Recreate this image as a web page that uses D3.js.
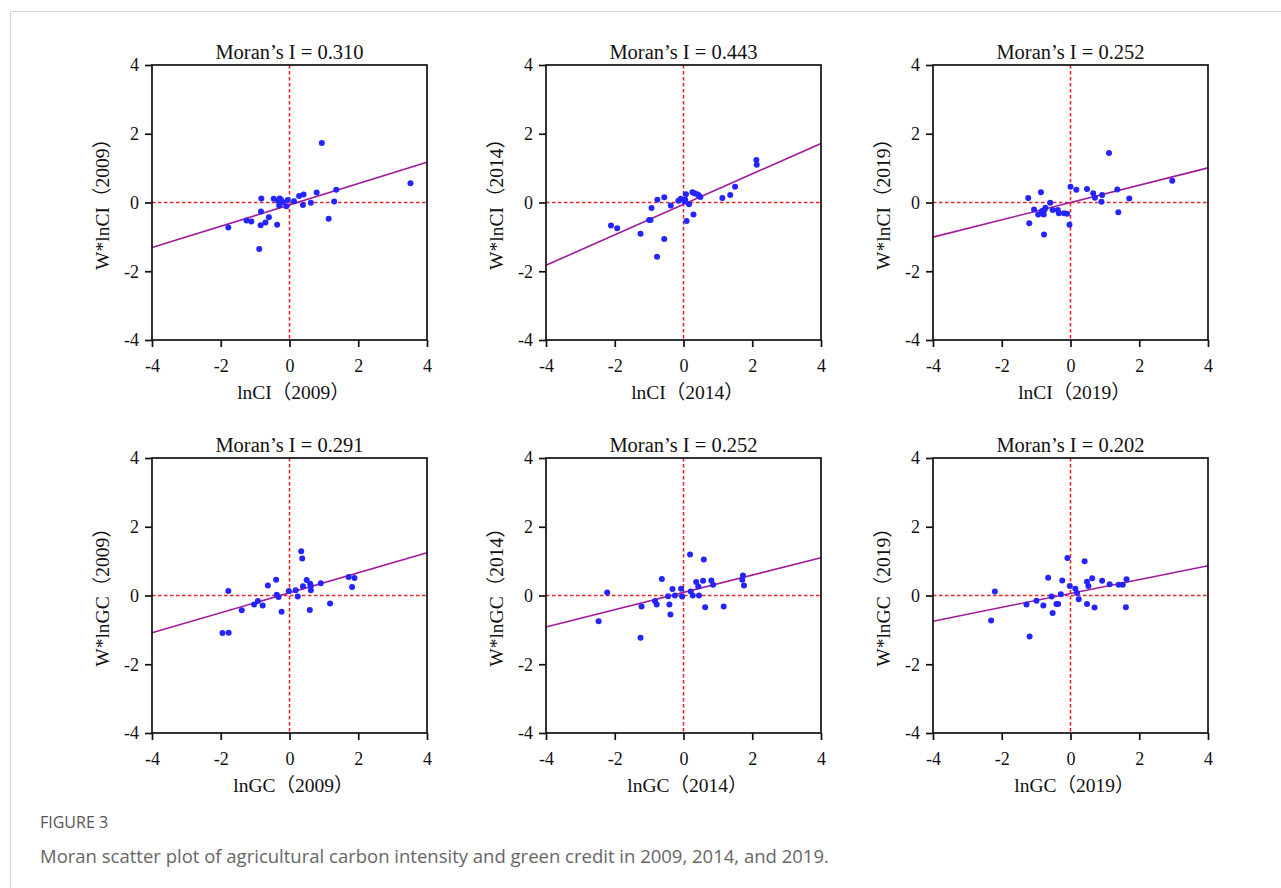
<!DOCTYPE html>
<html>
<head>
<meta charset="utf-8">
<script src="https://cdn.jsdelivr.net/npm/d3@7"></script>
<style>
body { margin: 0; background: #fff; }
</style>
</head>
<body>
<div id="fig"></div>
<script>
// Moran scatter values (x = standardised value, y = spatial lag)
var ci2009X = [3.52, 0.94, -1.78, -0.82, -0.46, -0.29, -0.25, -0.34, -0.19, -0.05, -0.30, -0.09, -0.83, -0.60, -0.70, -0.84, -1.25, -1.11, -0.36, -0.88, 0.13, 0.28, 0.41, 0.39, 0.62, 0.79, 1.14, 1.30, 1.36];
var ci2009Y = [0.56, 1.73, -0.73, 0.12, 0.11, 0.12, 0.08, 0.05, 0.01, 0.07, -0.09, -0.11, -0.26, -0.43, -0.58, -0.66, -0.52, -0.55, -0.65, -1.35, 0.04, 0.19, 0.23, -0.07, -0.01, 0.29, -0.47, 0.03, 0.37];

var ci2014X = [2.12, 2.13, 1.50, 1.36, 1.13, -2.11, -1.93, -1.25, -1.00, -0.96, -0.93, -0.76, -0.56, -0.37, -0.56, -0.77, -0.15, -0.08, 0.07, 0.05, 0.16, 0.26, 0.32, 0.40, 0.44, 0.49, 0.09, 0.29, 0.03];
var ci2014Y = [1.24, 1.10, 0.46, 0.22, 0.13, -0.67, -0.75, -0.91, -0.51, -0.51, -0.16, 0.08, 0.15, -0.09, -1.06, -1.58, 0.05, 0.11, 0.24, 0.08, -0.05, 0.30, 0.27, 0.24, 0.21, 0.16, -0.54, -0.35, 0.03];

var ci2019X = [1.12, 2.96, -1.23, -0.86, -0.59, -1.06, -0.94, -0.83, -0.78, -0.73, -0.76, -0.52, -0.37, -0.34, -0.19, -0.10, -1.20, -0.77, -0.03, 0.00, 0.17, 0.48, 0.66, 0.71, 0.92, 0.90, 1.36, 1.39, 1.71];
var ci2019Y = [1.44, 0.63, 0.13, 0.30, -0.01, -0.20, -0.35, -0.25, -0.35, -0.15, -0.22, -0.22, -0.22, -0.31, -0.31, -0.33, -0.60, -0.93, -0.65, 0.46, 0.37, 0.39, 0.27, 0.14, 0.22, 0.02, 0.38, -0.28, 0.12];

var gc2009X = [0.34, 0.37, -1.95, -1.77, -1.78, -1.39, -1.03, -0.92, -0.78, -0.63, -0.39, -0.37, -0.32, -0.23, -0.02, 0.18, 0.24, 0.39, 0.50, 0.60, 0.62, 0.62, 0.59, 0.91, 1.18, 1.72, 1.89, 1.82];
var gc2009Y = [1.29, 1.08, -1.09, -1.08, 0.13, -0.43, -0.26, -0.16, -0.29, 0.29, 0.46, 0.02, -0.04, -0.47, 0.13, 0.15, -0.03, 0.27, 0.45, 0.34, 0.28, 0.15, -0.42, 0.36, -0.23, 0.54, 0.51, 0.25];

var gc2014X = [0.19, 0.59, -2.22, -2.47, -1.25, -1.22, -0.83, -0.78, -0.63, -0.45, -0.32, -0.25, -0.41, -0.38, -0.07, -0.04, 0.21, 0.27, 0.37, 0.43, 0.45, 0.57, 0.63, 0.81, 0.86, 1.17, 1.71, 1.73, 1.76];
var gc2014Y = [1.19, 1.05, 0.09, -0.75, -1.23, -0.32, -0.16, -0.26, 0.48, -0.02, 0.19, 0.00, -0.26, -0.55, 0.20, -0.03, 0.12, 0.00, 0.39, 0.26, 0.00, 0.43, -0.34, 0.44, 0.31, -0.32, 0.46, 0.58, 0.29];

var gc2019X = [-0.09, 0.41, -2.20, -2.31, -1.19, -1.28, -0.99, -0.79, -0.65, -0.55, -0.52, -0.41, -0.36, -0.28, -0.24, -0.02, 0.14, 0.19, 0.24, 0.48, 0.52, 0.48, 0.63, 0.70, 0.92, 1.14, 1.40, 1.52, 1.63, 1.61];
var gc2019Y = [1.09, 1.00, 0.12, -0.73, -1.19, -0.26, -0.15, -0.29, 0.52, -0.03, -0.51, -0.25, -0.25, 0.04, 0.44, 0.28, 0.20, 0.07, -0.11, 0.40, 0.28, -0.25, 0.50, -0.35, 0.43, 0.33, 0.31, 0.31, 0.47, -0.34];

var morans = [0.310, 0.443, 0.252, 0.291, 0.252, 0.202];   // slope of fit line
var intercepts = [-0.07, -0.055, 0.0, 0.08, 0.09, 0.06];
var xLabels = ["lnCI（2009）", "lnCI（2014）", "lnCI（2019）", "lnGC（2009）", "lnGC（2014）", "lnGC（2019）"];
var yLabels = ["W*lnCI（2009）", "W*lnCI（2014）", "W*lnCI（2019）", "W*lnGC（2009）", "W*lnGC（2014）", "W*lnGC（2019）"];
var tickVals = [-4, -2, 0, 2, 4];

var xs = [ci2009X, ci2014X, ci2019X, gc2009X, gc2014X, gc2019X];
var ys = [ci2009Y, ci2014Y, ci2019Y, gc2009Y, gc2014Y, gc2019Y];

var W = 1281, H = 888;
var colLeft = [152, 546, 933];
var rowTop = [65, 458];
var size = 275;
var serif = '"Liberation Serif", "Times New Roman", "Noto Sans CJK SC", serif';

var svg = d3.select("#fig").append("svg").attr("width", W).attr("height", H);

// light frame around the figure
svg.append("line").attr("x1", 10.5).attr("y1", 11.5).attr("x2", W).attr("y2", 11.5)
    .attr("stroke", "#d4d4d4").attr("stroke-width", 1);
svg.append("line").attr("x1", 10.5).attr("y1", 11.5).attr("x2", 10.5).attr("y2", H)
    .attr("stroke", "#d4d4d4").attr("stroke-width", 1);

function drawPanel(i) {
    var px = colLeft[i % 3];
    var py = rowTop[Math.floor(i / 3)];

    var x = d3.scaleLinear().domain([-4, 4]).range([0, size]);
    var y = d3.scaleLinear().domain([-4, 4]).range([size, 0]);

    var g = svg.append("g").attr("transform", "translate(" + px + "," + py + ")");

    // quadrant lines
    g.append("line")
        .attr("x1", x(0)).attr("x2", x(0)).attr("y1", 0).attr("y2", size)
        .attr("stroke", "#e3262b").attr("stroke-width", 1.6).attr("stroke-dasharray", "3.5,2.5");
    g.append("line")
        .attr("x1", 0).attr("x2", size).attr("y1", y(0)).attr("y2", y(0))
        .attr("stroke", "#e3262b").attr("stroke-width", 1.6).attr("stroke-dasharray", "3.5,2.5");

    // fitted line, slope = Moran's I
    g.append("line")
        .attr("x1", x(-4)).attr("y1", y(morans[i] * -4 + intercepts[i]))
        .attr("x2", x(4)).attr("y2", y(morans[i] * 4 + intercepts[i]))
        .attr("stroke", "#a2199c").attr("stroke-width", 1.6);

    var pts = d3.zip(xs[i], ys[i]);
    g.selectAll("circle").data(pts).enter().append("circle")
        .attr("cx", function(d) { return x(d[0]); })
        .attr("cy", function(d) { return y(d[1]); })
        .attr("r", 3)
        .attr("fill", "#2424ff");

    // box
    g.append("rect").attr("x", 0).attr("y", 0).attr("width", size).attr("height", size)
        .attr("fill", "none").attr("stroke", "#111").attr("stroke-width", 1.7);

    var ax = g.append("g").attr("transform", "translate(0," + size + ")")
        .call(d3.axisBottom(x).tickValues(tickVals).tickSize(7).tickPadding(12)
            .tickFormat(function(d) { return String(d); }));
    var ay = g.append("g")
        .call(d3.axisLeft(y).tickValues(tickVals).tickSize(7).tickPadding(6)
            .tickFormat(function(d) { return String(d); }));

    [ax, ay].forEach(function(a) {
        a.select(".domain").remove();
        a.selectAll(".tick line").attr("stroke", "#111").attr("stroke-width", 1.7);
        a.selectAll(".tick text").attr("fill", "#111")
            .style("font-family", serif).style("font-size", "18px");
    });

    g.append("text")
        .attr("x", size / 2).attr("y", -6)
        .attr("text-anchor", "middle")
        .style("font-family", serif).style("font-size", "20.5px").attr("fill", "#111")
        .text("Moran’s I = " + morans[i].toFixed(3));

    g.append("text")
        .attr("x", size / 2 + 4).attr("y", size + 59)
        .attr("text-anchor", "middle")
        .style("font-family", serif).style("font-size", "19.5px").attr("fill", "#111")
        .text(xLabels[i]);

    g.append("text")
        .attr("transform", "translate(-43," + (size / 2 - 3) + ") rotate(-90)")
        .attr("text-anchor", "middle")
        .style("font-family", serif).style("font-size", "19.5px").attr("fill", "#111")
        .text(yLabels[i]);
}

for (var i = 0; i < 6; i++) drawPanel(i);

svg.append("text")
    .attr("x", 40).attr("y", 828)
    .style("font-family", '"Open Sans", sans-serif').style("font-size", "16px")
    .attr("fill", "#555")
    .text("FIGURE 3");

svg.append("text")
    .attr("x", 40).attr("y", 863)
    .style("font-family", '"Open Sans", sans-serif').style("font-size", "18.5px")
    .attr("fill", "#666")
    .text("Moran scatter plot of agricultural carbon intensity and green credit in 2009, 2014, and 2019.");
</script>
</body>
</html>
